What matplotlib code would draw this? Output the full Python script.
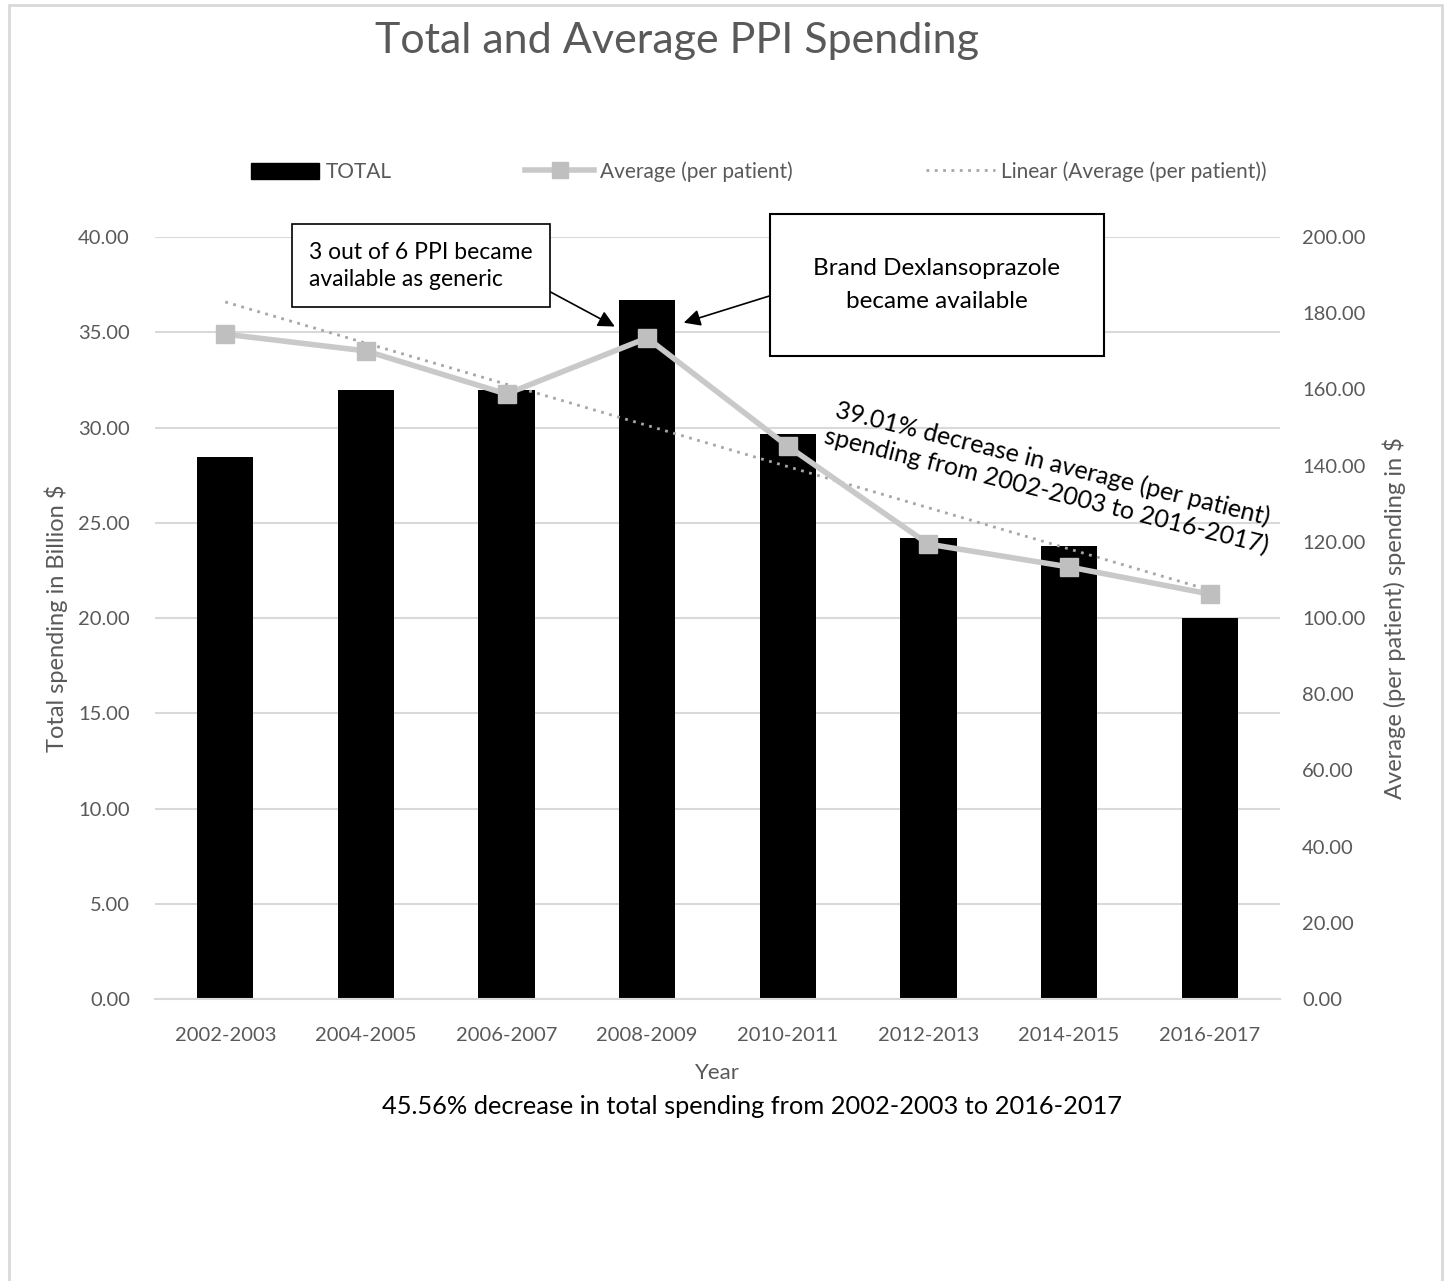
import matplotlib.pyplot as plt
import numpy as np
from matplotlib.lines import Line2D
from matplotlib.patches import Patch, Rectangle
from matplotlib import ticker

plt.rcParams['font.family'] = ['Lato', 'DejaVu Sans']

# Valores por biênio
anos    = ['2002-2003', '2004-2005', '2006-2007', '2008-2009',
           '2010-2011', '2012-2013', '2014-2015', '2016-2017']
total   = [28.45, 31.95, 31.95, 36.70, 29.65, 24.20, 23.80, 20.00]   # bilhões $
media   = [174.5, 170.1, 158.8, 173.5, 145.1, 119.4, 113.4, 106.3]   # $ por paciente

cinza_txt = '#595959'
cinza_grd = '#d9d9d9'

fig = plt.figure(figsize=(14.48, 12.81), dpi=100)
ax1 = fig.add_axes([0.107, 0.2201, 0.777, 0.5949])

x = np.arange(len(anos))

# Barras do total
ax1.bar(x, total, width=0.4, color='black', zorder=2)
ax1.set_ylim(0, 40)
ax1.set_xlim(-0.5, len(anos) - 0.5)
ax1.yaxis.set_major_locator(ticker.MultipleLocator(5))
ax1.yaxis.set_major_formatter(ticker.FormatStrFormatter('%.2f'))
ax1.grid(axis='y', color=cinza_grd, linewidth=1.5, zorder=0)
ax1.set_axisbelow(True)
for s in ['top', 'right', 'left']:
    ax1.spines[s].set_visible(False)
ax1.spines['bottom'].set_color(cinza_grd)
ax1.spines['bottom'].set_linewidth(1.5)
ax1.tick_params(axis='y', length=0, labelsize=14.5, labelcolor=cinza_txt, pad=18)
ax1.set_xticks(x)
ax1.set_xticklabels(anos)
ax1.tick_params(axis='x', length=0, labelsize=14.5, labelcolor=cinza_txt, pad=20)
ax1.set_ylabel('Total spending in Billion $', fontsize=17, color=cinza_txt, labelpad=7.5)
ax1.set_xlabel('Year', fontsize=16, color=cinza_txt, labelpad=14)

# Eixo auxiliar para a média por paciente
ax2 = ax1.twinx()
ax2.set_ylim(0, 200)
ax2.yaxis.set_major_locator(ticker.MultipleLocator(20))
ax2.yaxis.set_major_formatter(ticker.FormatStrFormatter('%.2f'))
for s in ['top', 'right', 'left', 'bottom']:
    ax2.spines[s].set_visible(False)
ax2.tick_params(axis='y', length=0, labelsize=14.5, labelcolor=cinza_txt, pad=16)
ax2.set_ylabel('Average (per patient) spending in $', fontsize=17, color=cinza_txt, labelpad=12)

# Tendência linear da média
coef = np.polyfit(x, media, 1)
ax2.plot(x, np.polyval(coef, x), color='#a6a6a6', linestyle=(0, (1, 2)), linewidth=2, zorder=3)
ax2.plot(x, media, color='#c9c9c9', linewidth=4, marker='s', markersize=13,
         markerfacecolor='#bfbfbf', markeredgecolor='#bfbfbf', zorder=4)

# Anotações
ax2.annotate('3 out of 6 PPI became\navailable as generic',
             xy=(2.77, 176.5), xycoords='data',
             xytext=(0.595, 192.5), textcoords='data',
             fontsize=16.5, color='black', ha='left', va='center', linespacing=1.35,
             bbox=dict(boxstyle='square,pad=0.75', facecolor='white', edgecolor='black', linewidth=1.2),
             arrowprops=dict(arrowstyle='-|>', color='black', lw=1.2, mutation_scale=25,
                             shrinkA=0, shrinkB=0, relpos=(1.0, 0.15)))
ax2.annotate('Brand Dexlansoprazole\nbecame available',
             xy=(3.26, 177.5), xycoords='data',
             xytext=(5.06, 187.4), textcoords='data',
             fontsize=17.5, color='black', ha='center', va='center', linespacing=1.75,
             bbox=dict(boxstyle='square,pad=1.78', facecolor='white', edgecolor='black', linewidth=1.5),
             arrowprops=dict(arrowstyle='-|>', color='black', lw=1.2, mutation_scale=25,
                             shrinkA=0, shrinkB=0, relpos=(0.0, 0.55)))

ax2.text(5.86, 137.0, '39.01% decrease in average (per patient)\nspending from 2002-2003 to 2016-2017)',
         rotation=-14, rotation_mode='anchor', ha='center', va='center',
         fontsize=18, color='black', linespacing=1.2, zorder=5)

# Legenda
handles = [Patch(facecolor='black', edgecolor='black'),
           Line2D([0], [0], color='#c9c9c9', linewidth=4, marker='s', markersize=11,
                  markerfacecolor='#bfbfbf', markeredgecolor='#bfbfbf'),
           Line2D([0], [0], color='#a6a6a6', linestyle=(0, (1, 2)), linewidth=2)]
labels = ['TOTAL', 'Average (per patient)', 'Linear (Average (per patient))']
fig.legend(handles, labels, loc='center', bbox_to_anchor=(0.524, 0.866), ncol=3,
           frameon=False, fontsize=15, labelcolor=cinza_txt, handlelength=3.3,
           handleheight=0.8, handletextpad=0.3, columnspacing=6.4)

fig.text(0.4675, 0.968, 'Total and Average PPI Spending', fontsize=31, color=cinza_txt,
         ha='center', va='center')
fig.text(0.519, 0.136, '45.56% decrease in total spending from 2002-2003 to 2016-2017',
         fontsize=18.3, color='black', ha='center', va='center')

# Moldura
fig.patches.append(Rectangle((9 / 1448, -0.1), 1433 / 1448, 1.1 - 5 / 1281,
                             transform=fig.transFigure, fill=False,
                             edgecolor=cinza_grd, linewidth=2))

fig.savefig('out.png', dpi=100)
